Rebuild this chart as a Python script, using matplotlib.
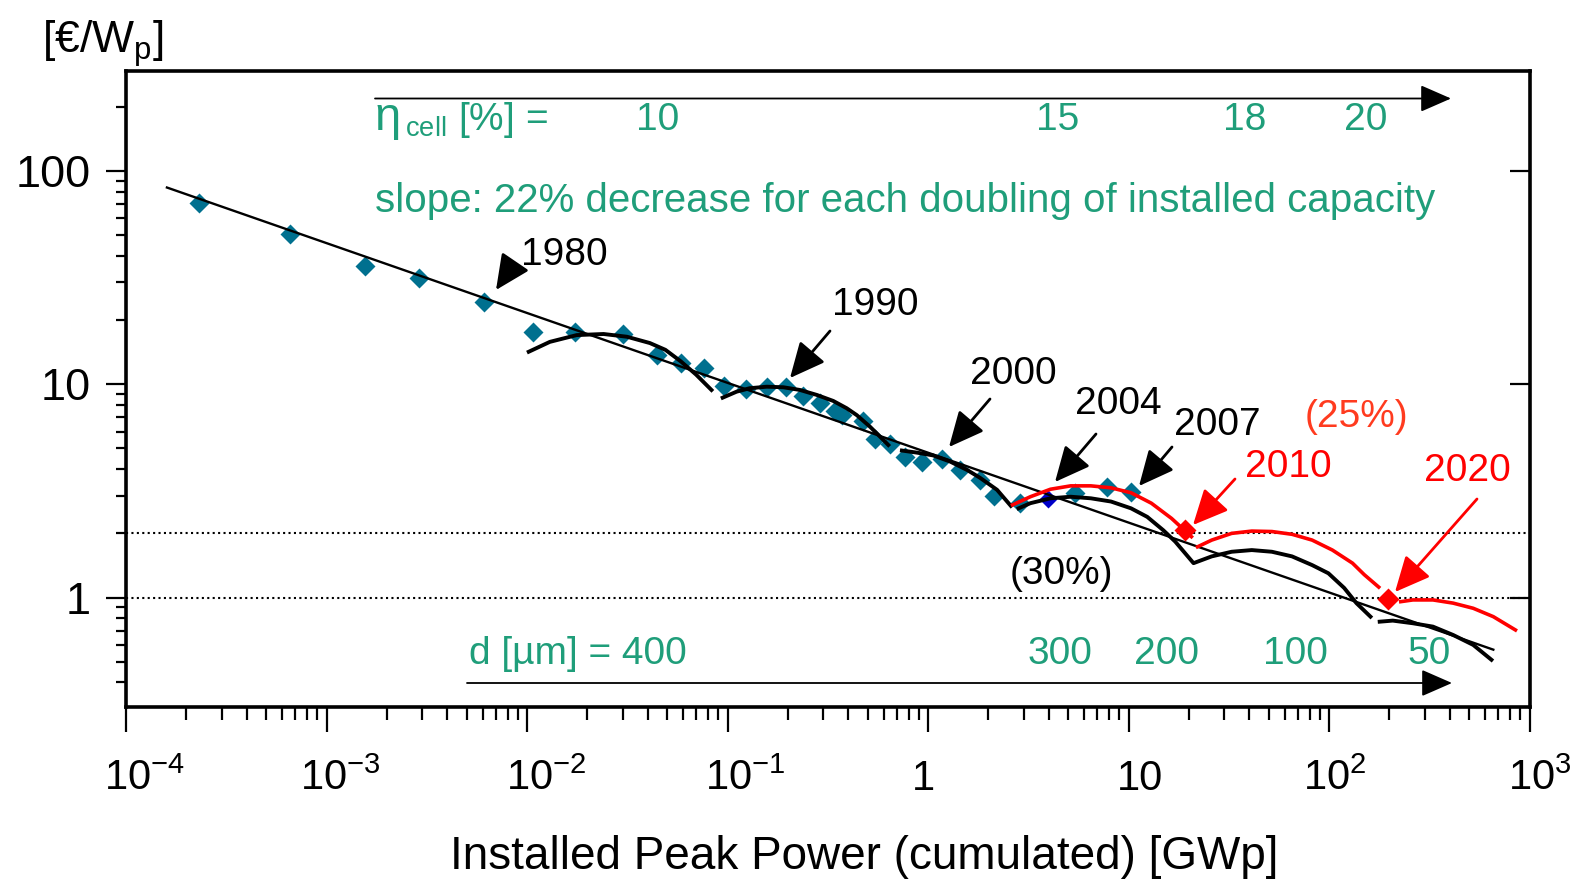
import matplotlib
matplotlib.use("Agg")
import matplotlib.pyplot as plt
import matplotlib.transforms as mtransforms
from matplotlib.ticker import FixedLocator, LogLocator, NullFormatter, NullLocator
import numpy as np

plt.rcParams['font.family'] = ['Liberation Sans', 'DejaVu Sans']
plt.rcParams['mathtext.fontset'] = 'custom'
plt.rcParams['mathtext.rm'] = 'Liberation Sans'
plt.rcParams['mathtext.it'] = 'Liberation Sans:italic'
plt.rcParams['mathtext.bf'] = 'Liberation Sans:bold'

# ---------------- data ----------------
xtick_vals = [1e-4, 1e-3, 1e-2, 1e-1, 1, 10, 1e2, 1e3]
xtick_labels = [r'$\mathregular{10^{-4}}$', r'$\mathregular{10^{-3}}$', r'$\mathregular{10^{-2}}$',
                r'$\mathregular{10^{-1}}$', '1', '10', r'$\mathregular{10^{2}}$', r'$\mathregular{10^{3}}$']
ytick_vals = [1, 10, 100]
ytick_labels = ['1', '10', '100']

# historical module prices (diamonds)
hist_x = [2.30e-4, 6.61e-4, 1.56e-3, 2.90e-3, 6.10e-3, 0.0107, 0.0173, 0.0301, 0.0447, 0.0583,
          0.0760, 0.0960, 0.124, 0.158, 0.195, 0.237, 0.289, 0.343, 0.372, 0.474, 0.544, 0.649,
          0.771, 0.929, 1.17, 1.44, 1.82, 2.14, 2.88, 5.40, 7.82, 10.3]
hist_y = [71.0, 50.6, 35.7, 31.4, 24.2, 17.5, 17.6, 17.2, 13.7, 12.6, 11.9, 9.80, 9.48, 9.68,
          9.68, 8.78, 8.14, 7.46, 7.14, 6.69, 5.51, 5.27, 4.57, 4.33, 4.48, 3.97, 3.56, 2.99,
          2.77, 3.09, 3.30, 3.13]
mark_x = [3.99]
mark_y = [2.90]
target_x = [19.1, 196]
target_y = [2.07, 0.99]

# learning-curve fit
fit_x = [1.6e-4, 660]
fit_y = [83.6, 0.57]

# black model segments
seg1_x = [0.0102, 0.0130, 0.0177, 0.0241, 0.0315, 0.0410, 0.0490, 0.0585, 0.0697, 0.0832]
seg1_y = [14.2, 15.8, 17.0, 17.2, 16.7, 15.6, 14.5, 12.8, 11.1, 9.40]
seg2_x = [0.0946, 0.111, 0.129, 0.157, 0.190, 0.230, 0.279, 0.337, 0.393, 0.441, 0.514, 0.599, 0.634]
seg2_y = [8.65, 9.23, 9.58, 9.74, 9.68, 9.40, 8.91, 8.35, 7.72, 7.17, 6.32, 5.48, 5.19]
seg3_x = [0.741, 0.881, 1.06, 1.29, 1.57, 1.82, 2.21, 2.59]
seg3_y = [4.89, 4.78, 4.64, 4.34, 3.96, 3.64, 3.20, 2.69]
seg4_x = [2.83, 3.24, 4.08, 5.15, 6.49, 8.18, 10.3, 12.4, 14.9, 17.1, 19.2, 21.1,
          26.0, 32.7, 41.2, 51.9, 65.4, 82.4, 99.3, 119, 137, 161]
seg4_y = [2.62, 2.77, 2.92, 2.97, 2.92, 2.82, 2.62, 2.39, 2.07, 1.83, 1.61, 1.45,
          1.56, 1.64, 1.67, 1.64, 1.56, 1.42, 1.30, 1.11, 0.942, 0.814]
seg5_x = [179, 208, 262, 330, 416, 524, 646]
seg5_y = [0.771, 0.780, 0.758, 0.731, 0.668, 0.600, 0.511]

# red (25 %) model segments
red1_x = [2.64, 3.24, 4.08, 5.15, 6.49, 8.18, 10.3, 13.0, 16.4, 20.6]
red1_y = [2.72, 2.97, 3.22, 3.34, 3.34, 3.27, 3.10, 2.77, 2.35, 1.93]
red2_x = [22.1, 26.0, 32.7, 41.2, 51.9, 65.4, 82.4, 104, 131, 150, 177]
red2_y = [1.73, 1.86, 2.00, 2.05, 2.04, 1.98, 1.86, 1.67, 1.45, 1.28, 1.12]
red3_x = [228, 262, 330, 416, 524, 660, 851]
red3_y = [0.957, 0.975, 0.975, 0.942, 0.891, 0.814, 0.705]

ref_levels = [2, 1]

# ---------------- figure ----------------
W, H = 1581, 884
fig = plt.figure(figsize=(W / 100, H / 100), dpi=100)
L, R, T, B = 126, 1529.5, 71, 707
ax = fig.add_axes([L / W, 1 - B / H, (R - L) / W, (B - T) / H])

def P(X, Y):
    return ((X - L) / (R - L), (B - Y) / (B - T))

GREEN = '#1F9E7A'
BLUE = '#00708F'

ax.set_xscale('log')
ax.set_yscale('log')
ax.set_xlim(1e-4, 1e3)
ax.set_ylim(0.307, 294)

for lvl in ref_levels:
    ax.axhline(lvl, color='k', lw=1.5, ls=(0, (1, 1.6)), zorder=1)

ax.plot(hist_x, hist_y, 'D', ms=10.3, color=BLUE, mec='none', zorder=2)
ax.plot(mark_x, mark_y, 'D', ms=9.5, color='#0000C8', mec='none', zorder=2)

ax.plot(fit_x, fit_y, color='k', lw=1.7, zorder=3)
for sx, sy in [(seg1_x, seg1_y), (seg2_x, seg2_y), (seg3_x, seg3_y), (seg4_x, seg4_y), (seg5_x, seg5_y)]:
    ax.plot(sx, sy, color='k', lw=2.8, zorder=4, solid_joinstyle='round')
for sx, sy in [(red1_x, red1_y), (red2_x, red2_y), (red3_x, red3_y)]:
    ax.plot(sx, sy, color='#FF0000', lw=2.6, zorder=4)
ax.plot(target_x, target_y, 'D', ms=11, color='#FF0000', mec='none', zorder=5)

# ticks
ax.xaxis.set_major_locator(FixedLocator(xtick_vals))
ax.xaxis.set_major_formatter(NullFormatter())
ax.xaxis.set_minor_locator(LogLocator(base=10, subs=np.arange(2, 10), numticks=30))
ax.xaxis.set_minor_formatter(NullFormatter())
ax.yaxis.set_major_locator(FixedLocator(ytick_vals))
ax.set_yticklabels(ytick_labels)
ax.yaxis.set_minor_locator(LogLocator(base=10, subs=np.arange(2, 10), numticks=30))
ax.yaxis.set_minor_formatter(NullFormatter())

ax.tick_params(axis='x', which='major', direction='out', length=18, width=1.6, top=False)
ax.tick_params(axis='x', which='minor', direction='out', length=9.5, width=1.6, top=False)
ax.tick_params(axis='y', which='major', direction='out', length=14.4, width=1.6, pad=11,
               labelsize=32.5, right=False)
ax.tick_params(axis='y', which='minor', direction='out', length=7.2, width=1.6, right=False)
for sp in ax.spines.values():
    sp.set_linewidth(2.6)

ax2 = ax.twinx()
ax2.set_yscale('log')
ax2.set_ylim(ax.get_ylim())
ax2.yaxis.set_major_locator(FixedLocator(ytick_vals))
ax2.yaxis.set_minor_locator(NullLocator())
ax2.tick_params(axis='y', which='major', direction='in', length=14.4, width=1.6, labelright=False)
for sp in ax2.spines.values():
    sp.set_visible(False)

# x tick labels drawn at common baseline, with the reference's horizontal offsets (px)
label_shift_px = [18, 14, 19, 18, -5, 11, 6, 10]
blend = mtransforms.blended_transform_factory(ax.transData, ax.transAxes)
base_y = (B - 790) / (B - T)
for xv, lab, sh in zip(xtick_vals, xtick_labels, label_shift_px):
    tr = mtransforms.offset_copy(blend, fig=fig, x=sh * 0.72, y=0, units='points')
    ax.text(xv, base_y, lab, transform=tr, ha='center', va='baseline', fontsize=30, clip_on=False)

# ---------------- annotations ----------------
def txt(X, Ybase, s, color='k', size=28, ha='center'):
    ax.text(*P(X, Ybase), s, transform=ax.transAxes, ha=ha, va='baseline', fontsize=size,
            color=color, zorder=6)

def arr(tail, tip, color='k'):
    ax.annotate('', xy=P(*tip), xytext=P(*tail), xycoords='axes fraction',
                textcoords='axes fraction',
                arrowprops=dict(arrowstyle='-|>,head_length=1.6,head_width=0.75',
                                mutation_scale=13.5, color=color, lw=2.0,
                                shrinkA=0, shrinkB=0), zorder=6)

def base(Yc, size=28):
    return Yc + 0.358 * size * 100 / 72

txt(564, base(251), '1980')
arr((513, 265), (496, 290))
txt(875, base(301.5), '1990')
arr((830, 331), (790, 378))
txt(1013, base(370), '2000')
arr((990, 399), (949, 447))
txt(1118, base(400), '2004')
arr((1096, 434), (1055, 482))
txt(1217, base(421.5), '2007')
arr((1172, 447), (1139, 486))
txt(1356, base(413), '(25%)', color='#FF3B1F')
txt(1288, base(463), '2010', color='#FF0000')
arr((1235, 479), (1193, 525), color='#FF0000')
txt(1467, base(467), '2020', color='#FF0000')
arr((1477, 499), (1395, 592), color='#FF0000')
txt(1061, base(570), '(30%)')

# efficiency row
ax.annotate('', xy=P(1451, 98.5), xytext=P(375, 98.5), xycoords='axes fraction',
            textcoords='axes fraction',
            arrowprops=dict(arrowstyle='-|>,head_length=1.6,head_width=0.7', mutation_scale=12,
                            color='k', lw=1.3, shrinkA=0, shrinkB=0))
txt(375, 130, 'η', color=GREEN, ha='left', size=34)
txt(405, 130, r'$_\mathregular{cell}$ [%] =', color=GREEN, ha='left')
for X, s in [(658, '10'), (1058, '15'), (1245, '18'), (1366, '20')]:
    txt(X, 130, s, color=GREEN)

txt(375, 212, 'slope: 22% decrease for each doubling of installed capacity', color=GREEN,
    size=29, ha='left')

# thickness row
txt(469, 664, 'd [µm] = 400', color=GREEN, ha='left')
for X, s in [(1060, '300'), (1167, '200'), (1295, '100'), (1429, '50')]:
    txt(X, 664, s, color=GREEN)
ax.annotate('', xy=P(1452, 683), xytext=P(467, 683), xycoords='axes fraction',
            textcoords='axes fraction',
            arrowprops=dict(arrowstyle='-|>,head_length=1.6,head_width=0.7', mutation_scale=12,
                            color='k', lw=1.3, shrinkA=0, shrinkB=0))

# axis titles
fig.text(42 / W, 1 - 53 / H, r'[€/W$_\mathregular{p}$]', fontsize=32, ha='left', va='baseline')
fig.text(864 / W, 1 - 869 / H, 'Installed Peak Power (cumulated) [GWp]', fontsize=33,
         ha='center', va='baseline')

fig.savefig('out.png', dpi=100)
